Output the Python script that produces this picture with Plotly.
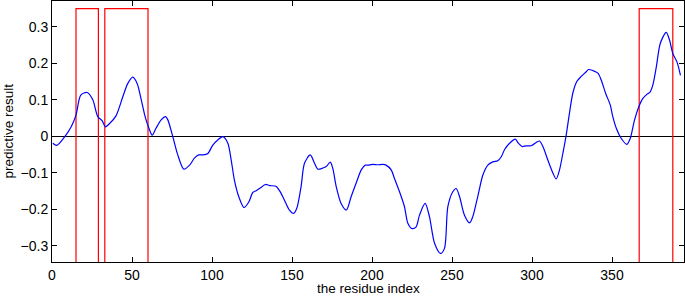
import plotly.graph_objects as go

residue_index = [0.5, 3, 8, 12, 15, 18, 22, 25.5, 28.6, 31.3, 33.4, 36, 40, 44.3, 47.4, 50.5, 53.2, 55.8, 58.2, 60.6,
                 62.6, 65, 68.2, 71, 72.4, 75.5, 78.6, 82.4, 86, 89, 91.6, 94.3, 97.4, 100.5, 103.6, 106.8, 109.9,
                 112, 114, 116.7, 120, 123, 125.5, 127.6, 130.7, 133.4, 136, 140, 142.2, 145.3, 148.4, 151, 153,
                 155.7, 157.8, 161.4, 164.1, 166.1, 169.3, 171.4, 173.9, 175.5, 177.6, 180.7, 184, 187, 190.1,
                 193.3, 195.8, 197.4, 200.5, 203.6, 206.8, 208.8, 212, 214, 217.2, 220.3, 222.4, 225.1, 227.6,
                 229.7, 233.2, 235.9, 239.1, 242.8, 245.3, 247.4, 250.5, 252.6, 254.7, 257.8, 261, 263, 266.1,
                 269.3, 272.4, 275.5, 278.6, 280.8, 282.9, 286, 289.7, 291.1, 293.8, 296.4, 299.5, 302.6, 304.7,
                 306.8, 309.9, 313.1, 315.1, 317.2, 319.7, 321.4, 323.4, 325.5, 328, 330.8, 333.9, 335.3, 338.1,
                 341.2, 343.2, 346, 348.9, 350.5, 352.7, 355.8, 359.3, 361.4, 364.1, 367.2, 369.3, 371.8, 373.9,
                 375.5, 377.7, 380.2, 383.9, 386, 388, 390.6, 392.8]
predictive_result = [-0.019, -0.025, -0.001, 0.026, 0.058, 0.113, 0.12, 0.1, 0.054, 0.043, 0.026, 0.035, 0.056, 0.109,
                     0.145, 0.162, 0.145, 0.1, 0.054, 0.022, 0.003, 0.022, 0.045, 0.054, 0.045, -0.001, -0.051,
                     -0.09, -0.079, -0.06, -0.051, -0.051, -0.047, -0.024, -0.01, -0.001, -0.019, -0.065, -0.12,
                     -0.165, -0.195, -0.18, -0.154, -0.149, -0.14, -0.132, -0.135, -0.137, -0.149, -0.175, -0.202,
                     -0.211, -0.197, -0.137, -0.074, -0.051, -0.074, -0.09, -0.087, -0.083, -0.071, -0.088, -0.137,
                     -0.184, -0.202, -0.165, -0.128, -0.092, -0.079, -0.079, -0.077, -0.078, -0.077, -0.079, -0.092,
                     -0.115, -0.152, -0.193, -0.238, -0.253, -0.248, -0.216, -0.184, -0.22, -0.293, -0.321, -0.307,
                     -0.193, -0.152, -0.143, -0.165, -0.216, -0.237, -0.22, -0.165, -0.106, -0.079, -0.07, -0.067,
                     -0.056, -0.036, -0.019, -0.008, -0.017, -0.028, -0.026, -0.026, -0.017, -0.013, -0.028, -0.065,
                     -0.101, -0.117, -0.092, -0.037, 0.004, 0.063, 0.118, 0.15, 0.164, 0.177, 0.183, 0.18, 0.173,
                     0.155, 0.118, 0.086, 0.054, 0.022, -0.006, -0.022, -0.006, 0.045, 0.086, 0.104, 0.115, 0.122,
                     0.14, 0.19, 0.255, 0.285, 0.263, 0.227, 0.204, 0.167]

region_starts = [15, 33, 367]
region_ends = [29, 60, 388]
region_top = 0.35
region_bottom = -0.5

x_ticks = [0, 50, 100, 150, 200, 250, 300, 350]
y_ticks = [-0.3, -0.2, -0.1, 0, 0.1, 0.2, 0.3]

fig = go.Figure()

for s, e in zip(region_starts, region_ends):
    fig.add_trace(go.Scatter(
        x=[s, s, e, e], y=[region_bottom, region_top, region_top, region_bottom],
        mode="lines", line=dict(color="#ff0000", width=1.2), showlegend=False, hoverinfo="skip"))

fig.add_trace(go.Scatter(
    x=residue_index, y=predictive_result, mode="lines",
    line=dict(color="#0000ff", width=1.2, shape="spline", smoothing=0.8), showlegend=False))

font = dict(family="Liberation Sans, Arial, sans-serif", size=14, color="#000000")
title_font = dict(family="Liberation Sans, Arial, sans-serif", size=13.5, color="#000000")

fig.update_layout(
    width=685, height=296,
    margin=dict(l=52, r=1, t=1, b=34),
    paper_bgcolor="white", plot_bgcolor="white",
    font=font,
    xaxis=dict(range=[0, 395], tickvals=x_ticks, ticks="inside", ticklen=5, tickcolor="#000",
               showline=True, linecolor="#000", linewidth=1, mirror="ticks", showgrid=False, zeroline=False,
               automargin=False, tickfont=font, ticklabelstandoff=0),
    yaxis=dict(range=[-0.3444, 0.3707], tickvals=y_ticks, ticks="inside", ticklen=5, tickcolor="#000",
               showline=True, linecolor="#000", linewidth=1, mirror="ticks", showgrid=False,
               zeroline=True, zerolinecolor="#000", zerolinewidth=1,
               automargin=False, tickfont=font),
    annotations=[
        dict(text="the residue index", xref="paper", yref="paper", x=0.5, y=0, yshift=-26.5,
             xanchor="center", yanchor="middle", showarrow=False, font=title_font),
        dict(text="predictive result", xref="paper", yref="paper", x=0, y=0.5, xshift=-44,
             xanchor="center", yanchor="middle", textangle=-90, showarrow=False, font=title_font),
    ],
)

fig.write_html("out.html", config={"displayModeBar": False},
               post_script="document.body.style.margin='0';document.body.style.overflow='hidden';")
